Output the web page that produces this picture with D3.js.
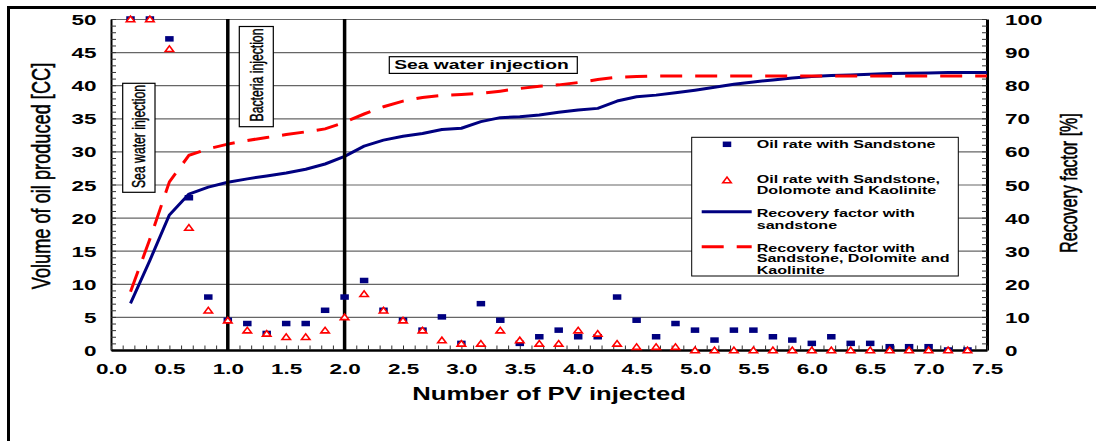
<!DOCTYPE html>
<html><head><meta charset="utf-8">
<script src="https://cdn.jsdelivr.net/npm/d3@7"></script>
<style>
body{margin:0;background:#fff;}
svg{display:block;}
text{font-family:"Liberation Sans",Arial,Helvetica,sans-serif;}
</style></head><body>
<svg id="chart" width="1096" height="441"></svg>
<script>
// ---------- data ----------
const pvInjected = [0.167,0.333,0.5,0.667,0.833,1.0,1.167,1.333,1.5,1.667,1.833,2.0,2.167,2.333,2.5,2.667,2.833,3.0,3.167,3.333,3.5,3.667,3.833,4.0,4.167,4.333,4.5,4.667,4.833,5.0,5.167,5.333,5.5,5.667,5.833,6.0,6.167,6.333,6.5,6.667,6.833,7.0,7.167,7.333];
const oilRateSandstone = [50,50,47,23,8,4.5,4,2.5,4,4,6,8,10.5,6,4.5,3,5,1,7,4.5,1,2,3,2,2,8,4.5,2,4,3,1.5,3,3,2,1.5,1,2,1,1,0.5,0.5,0.5,0,0];
const oilRateSDK = [50,50,45.5,18.5,6,4.5,3,2.5,2,2,3,5,8.5,6,4.5,3,1.5,1,1,3,1.5,1,1,3,2.5,1,0.5,0.5,0.5,0,0,0,0,0,0,0,0,0,0,0,0,0,0,0];
const rfPV = [0.167,0.333,0.5,0.667,0.833,1.0,1.167,1.333,1.5,1.667,1.833,2.0,2.167,2.333,2.5,2.667,2.833,3.0,3.167,3.333,3.5,3.667,3.833,4.0,4.167,4.333,4.5,4.667,4.833,5.0,5.167,5.333,5.5,5.667,5.833,6.0,6.167,6.333,6.5,6.667,6.833,7.0,7.167,7.333,7.5];
const rfSandstone = [14.1,27.1,40.8,47.1,49.2,50.7,51.7,52.6,53.5,54.6,56.2,58.5,61.6,63.4,64.6,65.4,66.6,67.0,69.0,70.2,70.5,71.0,71.8,72.5,73.0,75.2,76.5,77.0,77.7,78.5,79.4,80.3,81.0,81.6,82.2,82.6,82.9,83.1,83.3,83.5,83.6,83.7,83.8,83.8,83.8];
const rfSDK = [17.6,33.5,50.8,58.8,60.8,62.2,63.3,64.2,65.1,65.9,66.8,68.8,71.3,73.5,75.2,76.3,76.9,77.2,77.5,78.2,79.0,79.7,80.1,80.8,81.7,82.4,82.6,82.8,82.8,82.8,82.8,82.8,82.8,82.8,82.8,82.8,82.8,82.8,82.8,82.8,82.8,82.8,82.8,82.8,82.8];
const phaseChanges = [1.0, 2.0];
const xTicks = [0,0.5,1,1.5,2,2.5,3,3.5,4,4.5,5,5.5,6,6.5,7,7.5];
const leftTicks = [0,5,10,15,20,25,30,35,40,45,50];
const rightTicks = [0,10,20,30,40,50,60,70,80,90,100];
const legendLabels = [["Oil rate with Sandstone"],["Oil rate with Sandstone,","Dolomote and Kaolinite"],["Recovery factor with","sandstone"],["Recovery factor with","Sandstone, Dolomite and","Kaolinite"]];

// ---------- layout ----------
const SX = 1.45; // horizontal stretch of the original picture
const L = 111, R = 987, T = 19, B = 350;
const NAVY = "#000080", RED = "#ff0000";
const svg = d3.select("#chart");
const x = d3.scaleLinear().domain([0,7.5]).range([L,R]);
const yL = d3.scaleLinear().domain([0,50]).range([B,T]);
const yR = d3.scaleLinear().domain([0,100]).range([B,T]);

// outer frame
svg.append("path").attr("d","M8.5,441 L8.5,7.5 L1096,7.5").attr("fill","none").attr("stroke","#000").attr("stroke-width",3);

// gridlines
const grid = svg.append("g").attr("transform",`translate(${L},0)`)
  .call(d3.axisLeft(yL).tickValues(leftTicks.slice(1)).tickSize(-(R-L)).tickFormat(""));
grid.select(".domain").remove();
grid.selectAll("line").attr("stroke","#666").attr("stroke-width",1.2);

// left axis minor ticks
const la = svg.append("g").attr("transform",`translate(${L},0)`)
  .call(d3.axisLeft(yL).ticks(50).tickSize(-5).tickSizeOuter(0).tickFormat(""));
la.select(".domain").attr("stroke","#000").attr("stroke-width",2);
la.selectAll("line").attr("stroke","#333").attr("stroke-width",1);
// left labels
const ll = svg.append("g").attr("transform",`translate(${L},0)`)
  .call(d3.axisLeft(yL).tickValues(leftTicks).tickSize(0).tickFormat(d3.format("d")));
ll.select(".domain").remove();
ll.selectAll("text").attr("x",0).attr("dy","0.36em").attr("transform",`translate(-14.5,0) scale(${SX},1)`)
  .attr("font-size",15.5).attr("font-weight","bold").attr("fill","#000").attr("font-family",'"Liberation Sans",Arial,sans-serif');

// right axis
const ra = svg.append("g").attr("transform",`translate(${R},0)`)
  .call(d3.axisRight(yR).ticks(50).tickSize(-5).tickSizeOuter(0).tickFormat(""));
ra.select(".domain").attr("stroke","#000").attr("stroke-width",3);
ra.selectAll("line").attr("stroke","#333").attr("stroke-width",1);
const rl = svg.append("g").attr("transform",`translate(${R},0)`)
  .call(d3.axisRight(yR).tickValues(rightTicks).tickSize(0).tickFormat(d3.format("d")));
rl.select(".domain").remove();
rl.selectAll("text").attr("x",0).attr("dy","0.36em").attr("transform",`translate(18,0) scale(${SX},1)`)
  .attr("font-size",15.5).attr("font-weight","bold").attr("fill","#000").attr("font-family",'"Liberation Sans",Arial,sans-serif');

// bottom axis
const ba = svg.append("g").attr("transform",`translate(0,${B})`)
  .call(d3.axisBottom(x).ticks(75).tickSize(-4.5).tickSizeOuter(0).tickFormat(""));
ba.select(".domain").attr("stroke","#000").attr("stroke-width",2.5);
ba.selectAll("line").attr("stroke","#333").attr("stroke-width",1);
const bl = svg.append("g").attr("transform",`translate(0,${B})`)
  .call(d3.axisBottom(x).tickValues(xTicks).tickSize(0).tickFormat(d3.format(".1f")));
bl.select(".domain").remove();
bl.selectAll("text").attr("y",0).attr("dy",0).attr("transform",`translate(0,23.5) scale(${SX},1)`)
  .attr("font-size",15.5).attr("font-weight","bold").attr("fill","#000").attr("font-family",'"Liberation Sans",Arial,sans-serif');

// recovery-factor curves
const line = d3.line().x(d=>x(d[0])).y(d=>yR(d[1]));
svg.append("path").datum(rfPV.map((p,i)=>[p,rfSandstone[i]])).attr("d",line)
  .attr("fill","none").attr("stroke",NAVY).attr("stroke-width",3).attr("stroke-linejoin","round");
svg.append("path").datum(rfPV.map((p,i)=>[p,rfSDK[i]])).attr("d",line)
  .attr("fill","none").attr("stroke",RED).attr("stroke-width",3).attr("stroke-dasharray","22,13");

// phase-change lines
svg.append("g").selectAll("line").data(phaseChanges).join("line")
  .attr("x1",d=>x(d)).attr("x2",d=>x(d)).attr("y1",yL(50)).attr("y2",yL(0))
  .attr("stroke","#000").attr("stroke-width",3.5);

// markers
const sqW = 8.5, sqH = 5.5;
svg.append("g").selectAll("rect").data(pvInjected.map((p,i)=>[p,oilRateSandstone[i]])).join("rect")
  .attr("x",d=>x(d[0])-sqW/2).attr("y",d=>yL(d[1])-sqH/2).attr("width",sqW).attr("height",sqH).attr("fill",NAVY);
const tri = (cx,cy)=>`M${cx-4.2},${cy+2.7}L${cx},${cy-2.9}L${cx+4.2},${cy+2.7}Z`;
svg.append("g").selectAll("path").data(pvInjected.map((p,i)=>[p,oilRateSDK[i]])).join("path")
  .attr("d",d=>tri(x(d[0]),yL(d[1]))).attr("fill","#fff").attr("stroke",RED).attr("stroke-width",1.6);

// annotation boxes
function vbox(bx,by,bw,bh,label,cx,cy,fs){
  svg.append("rect").attr("x",bx).attr("y",by).attr("width",bw).attr("height",bh)
    .attr("fill","#fff").attr("stroke","#000").attr("stroke-width",1.2);
  svg.append("text").attr("transform",`translate(${cx},${cy}) scale(${SX},1) rotate(-90)`)
    .attr("text-anchor","middle").attr("dy","0.35em").attr("font-size",fs)
    .attr("stroke","#000").attr("stroke-width",0.3).text(label);
}
vbox(122.7,83.3,32.3,109,"Sea water injection",138.5,136.5,12.2);
vbox(239.3,26.5,34,100.2,"Bacteria injection",256.3,75,12.2);
svg.append("rect").attr("x",389.3).attr("y",56.7).attr("width",188).attr("height",16.7)
  .attr("fill","#fff").attr("stroke","#000").attr("stroke-width",1.2);
svg.append("text").attr("transform",`translate(481.5,64.8) scale(${SX},1)`)
  .attr("text-anchor","middle").attr("dy","0.35em").attr("font-size",13.3).attr("font-weight","bold").text("Sea water injection");

// legend
svg.append("rect").attr("x",691.7).attr("y",137.3).attr("width",266.6).attr("height",138.7)
  .attr("fill","#fff").attr("stroke","#000").attr("stroke-width",1);
svg.append("rect").attr("x",727-sqW/2).attr("y",144.3-sqH/2).attr("width",sqW).attr("height",sqH).attr("fill",NAVY);
svg.append("path").attr("d",tri(727,180)).attr("fill","#fff").attr("stroke",RED).attr("stroke-width",1.6);
svg.append("line").attr("x1",701.7).attr("x2",751.7).attr("y1",211.7).attr("y2",211.7).attr("stroke",NAVY).attr("stroke-width",3);
svg.append("line").attr("x1",701.7).attr("x2",751.7).attr("y1",246.7).attr("y2",246.7).attr("stroke",RED).attr("stroke-width",3).attr("stroke-dasharray","22,13");
const legendBaselines = [[148.3],[183.3,194],[217.3,228.6],[251.5,262.2,273.8]];
legendLabels.forEach((lines,i)=>{
  lines.forEach((t,j)=>{
    svg.append("text").attr("transform",`translate(756.7,${legendBaselines[i][j]}) scale(${SX},1)`)
      .attr("font-size",11.1).attr("font-weight","bold").attr("fill","#000").text(t);
  });
});

// axis titles
svg.append("text").attr("transform",`translate(549,399.5) scale(${SX},1)`).attr("text-anchor","middle")
  .attr("font-size",17.7).attr("font-weight","bold").text("Number of PV injected");
svg.append("text").attr("transform",`translate(40.5,176) scale(${SX},1) rotate(-90)`).attr("text-anchor","middle")
  .attr("dy","0.35em").attr("font-size",18.2).attr("stroke","#000").attr("stroke-width",0.4).text("Volume of oil produced [CC]");
svg.append("text").attr("transform",`translate(1069,183) scale(${SX},1) rotate(-90)`).attr("text-anchor","middle")
  .attr("dy","0.35em").attr("font-size",16).attr("stroke","#000").attr("stroke-width",0.4).text("Recovery factor [%]");
</script>
</body></html>
